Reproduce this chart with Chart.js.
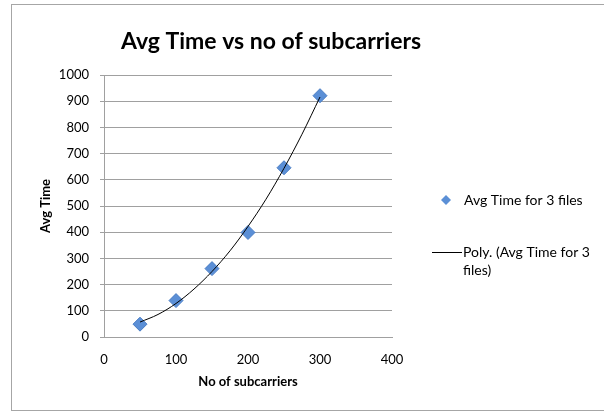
<!DOCTYPE html>
<html><head><meta charset="utf-8">
<script src="https://cdn.jsdelivr.net/npm/chart.js@4"></script>
<style>
html,body{margin:0;padding:0;background:#fff;}
#wrap{position:relative;width:604px;height:412px;}
#frame{position:absolute;left:11px;top:4px;width:600px;height:407px;border:1px solid #a6a6a6;box-sizing:border-box;}
canvas{position:absolute;left:0;top:0;}
</style></head>
<body>
<div id="wrap"><div id="frame"></div><canvas id="c" width="604" height="412"></canvas></div>
<script>
const title = "Avg Time vs no of subcarriers";
const xTitle = "No of subcarriers";
const yTitle = "Avg Time";
const seriesLabel = "Avg Time for 3 files";
const trendLabel = ["Poly. (Avg Time for 3", "files)"];
const subcarriers = [50, 100, 150, 200, 250, 300];
const avgTime = [49, 139, 261, 399, 646, 921];
const trendX = [50, 75, 100, 125, 150, 175, 200, 225, 250, 275, 300];
const trendY = [57, 86, 128, 183, 250, 329, 422, 526, 644, 774, 916];

const FONT = "Lato, 'Open Sans', sans-serif";

const overlayPlugin = {
  id: 'overlay',
  afterDraw(chart) {
    const ctx = chart.ctx;
    ctx.save();
    // title
    ctx.fillStyle = '#000';
    ctx.font = "bold 23px " + FONT;
    ctx.textAlign = 'center';
    ctx.textBaseline = 'middle';
    ctx.fillText(title, 271, 42);
    // legend diamond
    ctx.fillStyle = '#5b8fd6';
    ctx.strokeStyle = '#3f6fb3';
    ctx.lineWidth = 1;
    const dx = 446, dy = 200, r = 5;
    ctx.beginPath();
    ctx.moveTo(dx, dy - r); ctx.lineTo(dx + r, dy); ctx.lineTo(dx, dy + r); ctx.lineTo(dx - r, dy); ctx.closePath();
    ctx.fill();
    ctx.fillStyle = '#000';
    ctx.font = "14px " + FONT;
    ctx.textAlign = 'left';
    ctx.fillText(seriesLabel, 464, 200);
    // legend line
    ctx.strokeStyle = '#000';
    ctx.beginPath(); ctx.moveTo(432, 252.5); ctx.lineTo(462, 252.5); ctx.stroke();
    ctx.fillText(trendLabel[0], 463, 252);
    ctx.fillText(trendLabel[1], 463, 270);
    ctx.restore();
  }
};

new Chart(document.getElementById('c'), {
  type: 'scatter',
  data: {
    datasets: [
      {
        label: seriesLabel,
        data: subcarriers.map((x, i) => ({x: x, y: avgTime[i]})),
        pointStyle: 'rectRot',
        pointRadius: 7,
        pointHoverRadius: 7,
        backgroundColor: '#5b8fd6',
        borderColor: '#4a7dc4',
        borderWidth: 1,
        showLine: false,
        order: 2
      },
      {
        label: 'trend',
        data: trendX.map((x, i) => ({x: x, y: trendY[i]})),
        showLine: true,
        pointRadius: 0,
        borderColor: '#000',
        borderWidth: 1,
        cubicInterpolationMode: 'monotone',
        fill: false,
        order: 1
      }
    ]
  },
  options: {
    responsive: false,
    animation: false,
    layout: {padding: {left: 30, right: 212, top: 75, bottom: 22}},
    plugins: {
      legend: {display: false},
      tooltip: {enabled: false},
      title: {display: false}
    },
    scales: {
      x: {
        type: 'linear', min: 0, max: 400,
        ticks: {stepSize: 100, color: '#000', font: {family: FONT, size: 13}, padding: 15},
        grid: {display: false, drawTicks: false},
        border: {color: '#a0a0a0', width: 1},
        title: {display: true, text: xTitle, color: '#000', font: {family: FONT, size: 13, weight: 'bold'}, padding: {top: 8, bottom: 0}},
        afterFit(s) { s.height = 53; }
      },
      y: {
        min: 0, max: 1000,
        ticks: {stepSize: 100, color: '#000', font: {family: FONT, size: 13}, padding: 11,
          callback: (v) => String(v)},
        grid: {color: '#a0a0a0', lineWidth: 1, tickLength: 4, drawTicks: true},
        border: {color: '#a0a0a0', width: 1},
        title: {display: true, text: yTitle, color: '#000', font: {family: FONT, size: 13, weight: 'bold'}, padding: {top: 8, bottom: 0}},
        afterFit(s) { s.width = 74; }
      }
    }
  },
  plugins: [overlayPlugin]
});
</script>
</body></html>
